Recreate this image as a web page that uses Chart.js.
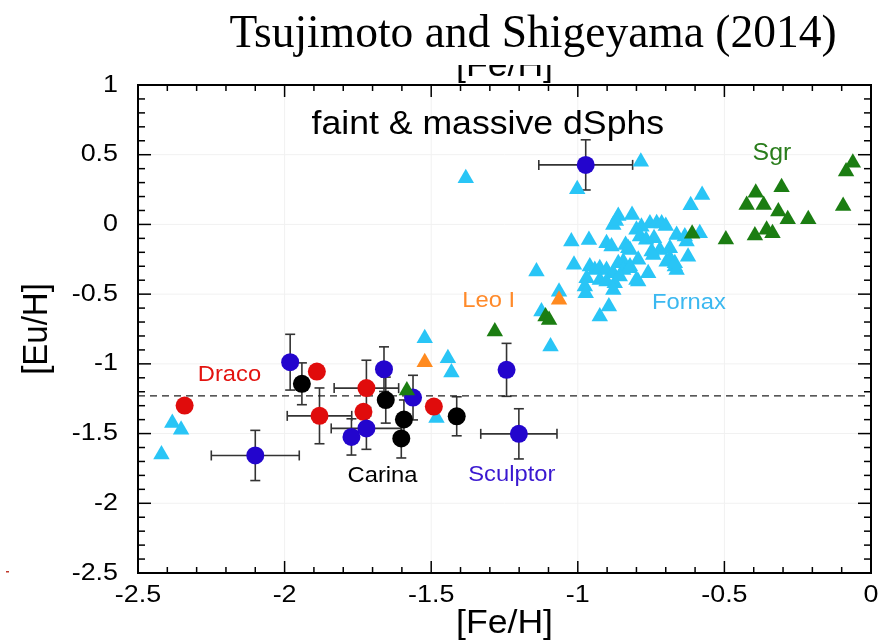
<!DOCTYPE html>
<html>
<head>
<meta charset="utf-8">
<script src="https://cdn.jsdelivr.net/npm/chart.js@4.4.0/dist/chart.umd.min.js"></script>
<style>
  html, body { margin: 0; padding: 0; background: #fff; }
  #wrap { width: 891px; height: 642px; }
</style>
</head>
<body>
<div id="wrap"><canvas id="chart" width="891" height="642"></canvas></div>
<script>
// axis ticks
const xTicks = [-2.5, -2, -1.5, -1, -0.5, 0];
const yTicks = [1, 0.5, 0, -0.5, -1, -1.5, -2, -2.5];
const dashedLevel = -1.23;

// Fornax, light blue triangles
const fornaxFe = [-2.42, -2.383, -2.353, -1.522, -1.443, -1.431, -1.482, -1.382, -1.002, -0.785,
  -1.093, -1.124, -1.141, -1.064, -0.925, -0.894, -0.576, -0.615, -1.022, -0.962,
  -1.013, -0.862, -0.815, -0.879, -0.870, -0.800, -0.783, -0.754, -0.731, -0.714,
  -0.700, -0.902, -0.885, -0.837, -0.822, -0.788, -0.767, -0.740, -0.663, -0.629,
  -0.584, -0.635, -0.828, -0.748, -0.720, -0.686, -0.845, -0.794, -0.743, -0.697,
  -0.669, -0.624, -0.959, -0.942, -0.925, -0.902, -0.879, -0.862, -0.845, -0.822,
  -0.760, -0.663, -0.794, -0.970, -0.976, -0.973, -0.925, -0.902, -0.874, -0.879,
  -0.800, -0.686, -0.669, -0.823, -0.857];
const fornaxEu = [-1.65, -1.425, -1.473, -0.816, -0.959, -1.062, -1.389, 0.331, 0.252, 0.450,
  -0.876, -0.625, -0.338, -0.482, -0.661, -0.589, 0.211, 0.137, -0.123, -0.111,
  -0.290, 0.060, 0.068, -0.004, 0.025, -0.039, -0.016, 0.006, 0.009, 0.006,
  -0.011, -0.135, -0.159, -0.147, -0.183, -0.087, -0.110, -0.100, -0.075, -0.123,
  -0.063, -0.087, -0.171, -0.195, -0.183, -0.171, -0.267, -0.254, -0.219, -0.267,
  -0.302, -0.231, -0.302, -0.326, -0.315, -0.326, -0.350, -0.278, -0.326, -0.302,
  -0.350, -0.326, -0.410, -0.386, -0.446, -0.493, -0.398, -0.410, -0.422, -0.470,
  -0.398, -0.242, -0.278, -0.314, -0.374];

// Sgr, green triangles
const sgrFe = [-1.583, -1.283, -1.110, -1.098, -0.610, -0.495, -0.424, -0.393, -0.366, -0.305,
  -0.316, -0.284, -0.214, -0.396, -0.356, -0.336, -0.095, -0.085, -0.062];
const sgrEu = [-1.191, -0.768, -0.660, -0.685, -0.066, -0.108, 0.140, 0.228, 0.140, 0.267,
  0.092, 0.037, 0.037, -0.080, -0.039, -0.063, 0.133, 0.379, 0.443];

// Leo I, orange triangles
const leoFe = [-1.522, -1.064];
const leoEu = [-0.988, -0.541];

// Draco, red circles
const dracoFe = [-2.341, -1.890, -1.881, -1.721, -1.731, -1.491];
const dracoEu = [-1.299, -1.055, -1.373, -1.174, -1.344, -1.306];
const dracoFeErr = [0, 0, 0.11, 0.11, 0, 0];
const dracoEuErr = [0, 0, 0.20, 0.20, 0, 0];

// Carina, black circles
const carinaFe = [-1.941, -1.655, -1.593, -1.602, -1.413];
const carinaEu = [-1.143, -1.260, -1.399, -1.535, -1.376];
const carinaFeErr = [0, 0, 0, 0, 0];
const carinaEuErr = [0.15, 0.165, 0.14, 0.14, 0.14];

// Sculptor, blue circles
const sculptorFe = [-2.100, -1.981, -1.772, -1.721, -1.661, -1.562, -1.243, -1.201, -0.973];
const sculptorEu = [-1.657, -0.988, -1.524, -1.463, -1.038, -1.242, -1.043, -1.502, 0.427];
const sculptorFeErr = [0.15, 0, 0, 0.12, 0, 0, 0, 0.13, 0.16];
const sculptorEuErr = [0.18, 0.20, 0.13, 0.15, 0.16, 0.16, 0.19, 0.18, 0.18];

// text labels [text, Fe, Eu(baseline), colour, size]
const groupLabels = [
  ['faint & massive dSphs', -1.307, 0.645, '#000000', 33],
  ['Sgr', -0.338, 0.462, '#2a7d1c', 23],
  ['Leo I', -1.304, -0.591, '#ff8a2a', 22],
  ['Fornax', -0.621, -0.606, '#3bb8f0', 22],
  ['Draco', -2.188, -1.122, '#e3130f', 22],
  ['Carina', -1.666, -1.846, '#000000', 22],
  ['Sculptor', -1.225, -1.839, '#3a18d0', 22]
];

function toPoints(xs, ys) {
  return xs.map((v, i) => ({ x: v, y: ys[i] }));
}

const SANS = "'Liberation Sans', Arial, sans-serif";

function stretchText(ctx, text, x, y, sx) {
  ctx.save();
  ctx.translate(x, y);
  ctx.scale(sx, 1);
  ctx.fillText(text, 0, 0);
  ctx.restore();
}

function seg(ctx, x0, y0, x1, y1) {
  ctx.beginPath();
  ctx.moveTo(x0, y0);
  ctx.lineTo(x1, y1);
  ctx.stroke();
}

const backPlugin = {
  id: 'back',
  beforeDatasetsDraw(chart) {
    const { ctx, chartArea: a, scales: { x, y } } = chart;
    ctx.save();
    // faint grid
    ctx.strokeStyle = '#f1f1f1';
    ctx.lineWidth = 1;
    xTicks.forEach(v => { const p = x.getPixelForValue(v); seg(ctx, p, a.top, p, a.bottom); });
    yTicks.forEach(v => { const p = y.getPixelForValue(v); seg(ctx, a.left, p, a.right, p); });

    // error bars
    ctx.strokeStyle = '#333333';
    ctx.lineWidth = 1.6;
    chart.data.datasets.forEach(ds => {
      if (!ds.errX) return;
      ds.data.forEach((pt, i) => {
        const px = x.getPixelForValue(pt.x);
        const py = y.getPixelForValue(pt.y);
        const ex = ds.errX[i];
        const ey = ds.errY[i];
        if (ex) {
          const x0 = x.getPixelForValue(pt.x - ex);
          const x1 = x.getPixelForValue(pt.x + ex);
          seg(ctx, x0, py, x1, py);
          seg(ctx, x0, py - 5, x0, py + 5);
          seg(ctx, x1, py - 5, x1, py + 5);
        }
        if (ey) {
          const y0 = y.getPixelForValue(pt.y + ey);
          const y1 = y.getPixelForValue(pt.y - ey);
          seg(ctx, px, y0, px, y1);
          seg(ctx, px - 5, y0, px + 5, y0);
          seg(ctx, px - 5, y1, px + 5, y1);
        }
      });
    });
    ctx.restore();
  },
  afterDraw(chart) {
    const { ctx, chartArea: a, scales: { x, y } } = chart;
    ctx.save();

    // frame with inward ticks
    ctx.strokeStyle = '#000';
    ctx.lineWidth = 1.5;
    for (let i = -25; i <= 0; i++) {
      const major = i % 5 === 0;
      const len = major ? 12 : 6;
      const p = x.getPixelForValue(i / 10);
      seg(ctx, p, a.bottom, p, a.bottom - len);
      seg(ctx, p, a.top, p, a.top + len);
    }
    for (let i = -25; i <= 10; i++) {
      const major = i % 5 === 0;
      const len = major ? 13 : 7;
      const p = y.getPixelForValue(i / 10);
      seg(ctx, a.left, p, a.left + len, p);
      seg(ctx, a.right, p, a.right - len, p);
    }
    ctx.lineWidth = 2;
    ctx.strokeRect(a.left, a.top, a.right - a.left, a.bottom - a.top);

    // tick labels
    ctx.fillStyle = '#000';
    ctx.font = '24px ' + SANS;
    ctx.textAlign = 'center';
    ctx.textBaseline = 'alphabetic';
    xTicks.forEach(v => stretchText(ctx, String(v), x.getPixelForValue(v), a.bottom + 29, 1.12));
    ctx.textAlign = 'right';
    ctx.textBaseline = 'middle';
    yTicks.forEach(v => stretchText(ctx, String(v), a.left - 20, y.getPixelForValue(v), 1.12));

    // axis titles
    const midX = (a.left + a.right) / 2;
    const midY = (a.top + a.bottom) / 2;
    ctx.font = '33px ' + SANS;
    ctx.textAlign = 'center';
    ctx.textBaseline = 'alphabetic';
    stretchText(ctx, '[Fe/H]', midX, a.bottom + 60, 1.08);
    ctx.save();
    ctx.translate(47, midY);
    ctx.rotate(-Math.PI / 2);
    ctx.scale(1, 1.08);
    ctx.fillText('[Eu/H]', 0, 0);
    ctx.restore();

    // top axis title, mostly hidden under the heading
    ctx.save();
    ctx.beginPath();
    ctx.rect(0, 65, chart.width, a.top - 65);
    ctx.clip();
    stretchText(ctx, '[Fe/H]', midX, a.top - 9, 1.08);
    ctx.restore();

    // group labels
    ctx.textAlign = 'center';
    ctx.textBaseline = 'alphabetic';
    groupLabels.forEach(([t, fe, eu, col, size]) => {
      ctx.fillStyle = col;
      ctx.font = size + 'px ' + SANS;
      stretchText(ctx, t, x.getPixelForValue(fe), y.getPixelForValue(eu), 1.08);
    });

    // heading
    ctx.fillStyle = '#000';
    ctx.font = "45.5px 'Liberation Serif', 'Times New Roman', serif";
    ctx.textAlign = 'center';
    ctx.fillText('Tsujimoto and Shigeyama (2014)', 533, 47);

    // small stray mark at left
    ctx.fillStyle = '#c0392b';
    ctx.fillRect(6, 571, 3, 1.5);
    ctx.restore();
  }
};

const ctx = document.getElementById('chart').getContext('2d');

new Chart(ctx, {
  type: 'scatter',
  data: {
    datasets: [
      {
        label: 'Sculptor',
        data: toPoints(sculptorFe, sculptorEu),
        errX: sculptorFeErr,
        errY: sculptorEuErr,
        pointStyle: 'circle',
        pointRadius: 9,
        backgroundColor: '#2305cd',
        borderWidth: 0,
        order: 1
      },
      {
        label: 'Carina',
        data: toPoints(carinaFe, carinaEu),
        errX: carinaFeErr,
        errY: carinaEuErr,
        pointStyle: 'circle',
        pointRadius: 9,
        backgroundColor: '#000000',
        borderWidth: 0,
        order: 3
      },
      {
        label: 'Draco',
        data: toPoints(dracoFe, dracoEu),
        errX: dracoFeErr,
        errY: dracoEuErr,
        pointStyle: 'circle',
        pointRadius: 9,
        backgroundColor: '#e00c0c',
        borderWidth: 0,
        order: 2
      },
      {
        label: 'Fornax',
        data: toPoints(fornaxFe, fornaxEu),
        pointStyle: 'triangle',
        pointRadius: 9.5,
        backgroundColor: '#29c5f6',
        borderWidth: 0,
        order: 4
      },
      {
        label: 'Sgr',
        data: toPoints(sgrFe, sgrEu),
        pointStyle: 'triangle',
        pointRadius: 9.5,
        backgroundColor: '#1b7d12',
        borderWidth: 0,
        order: 0
      },
      {
        label: 'Leo I',
        data: toPoints(leoFe, leoEu),
        pointStyle: 'triangle',
        pointRadius: 9.5,
        backgroundColor: '#ff8a1f',
        borderWidth: 0,
        order: 0
      },
      {
        type: 'line',
        label: 'level',
        data: [{ x: -2.5, y: dashedLevel }, { x: 0, y: dashedLevel }],
        borderColor: '#222222',
        borderWidth: 1.3,
        borderDash: [7, 5],
        pointRadius: 0,
        fill: false,
        order: 10
      }
    ]
  },
  options: {
    responsive: false,
    animation: false,
    events: [],
    layout: { padding: { left: 138, right: 20, top: 85, bottom: 69 } },
    plugins: {
      legend: { display: false },
      tooltip: { enabled: false },
      title: { display: false }
    },
    scales: {
      x: { type: 'linear', min: -2.5, max: 0, display: false },
      y: { type: 'linear', min: -2.5, max: 1, display: false }
    }
  },
  plugins: [backPlugin]
});
</script>
</body>
</html>
